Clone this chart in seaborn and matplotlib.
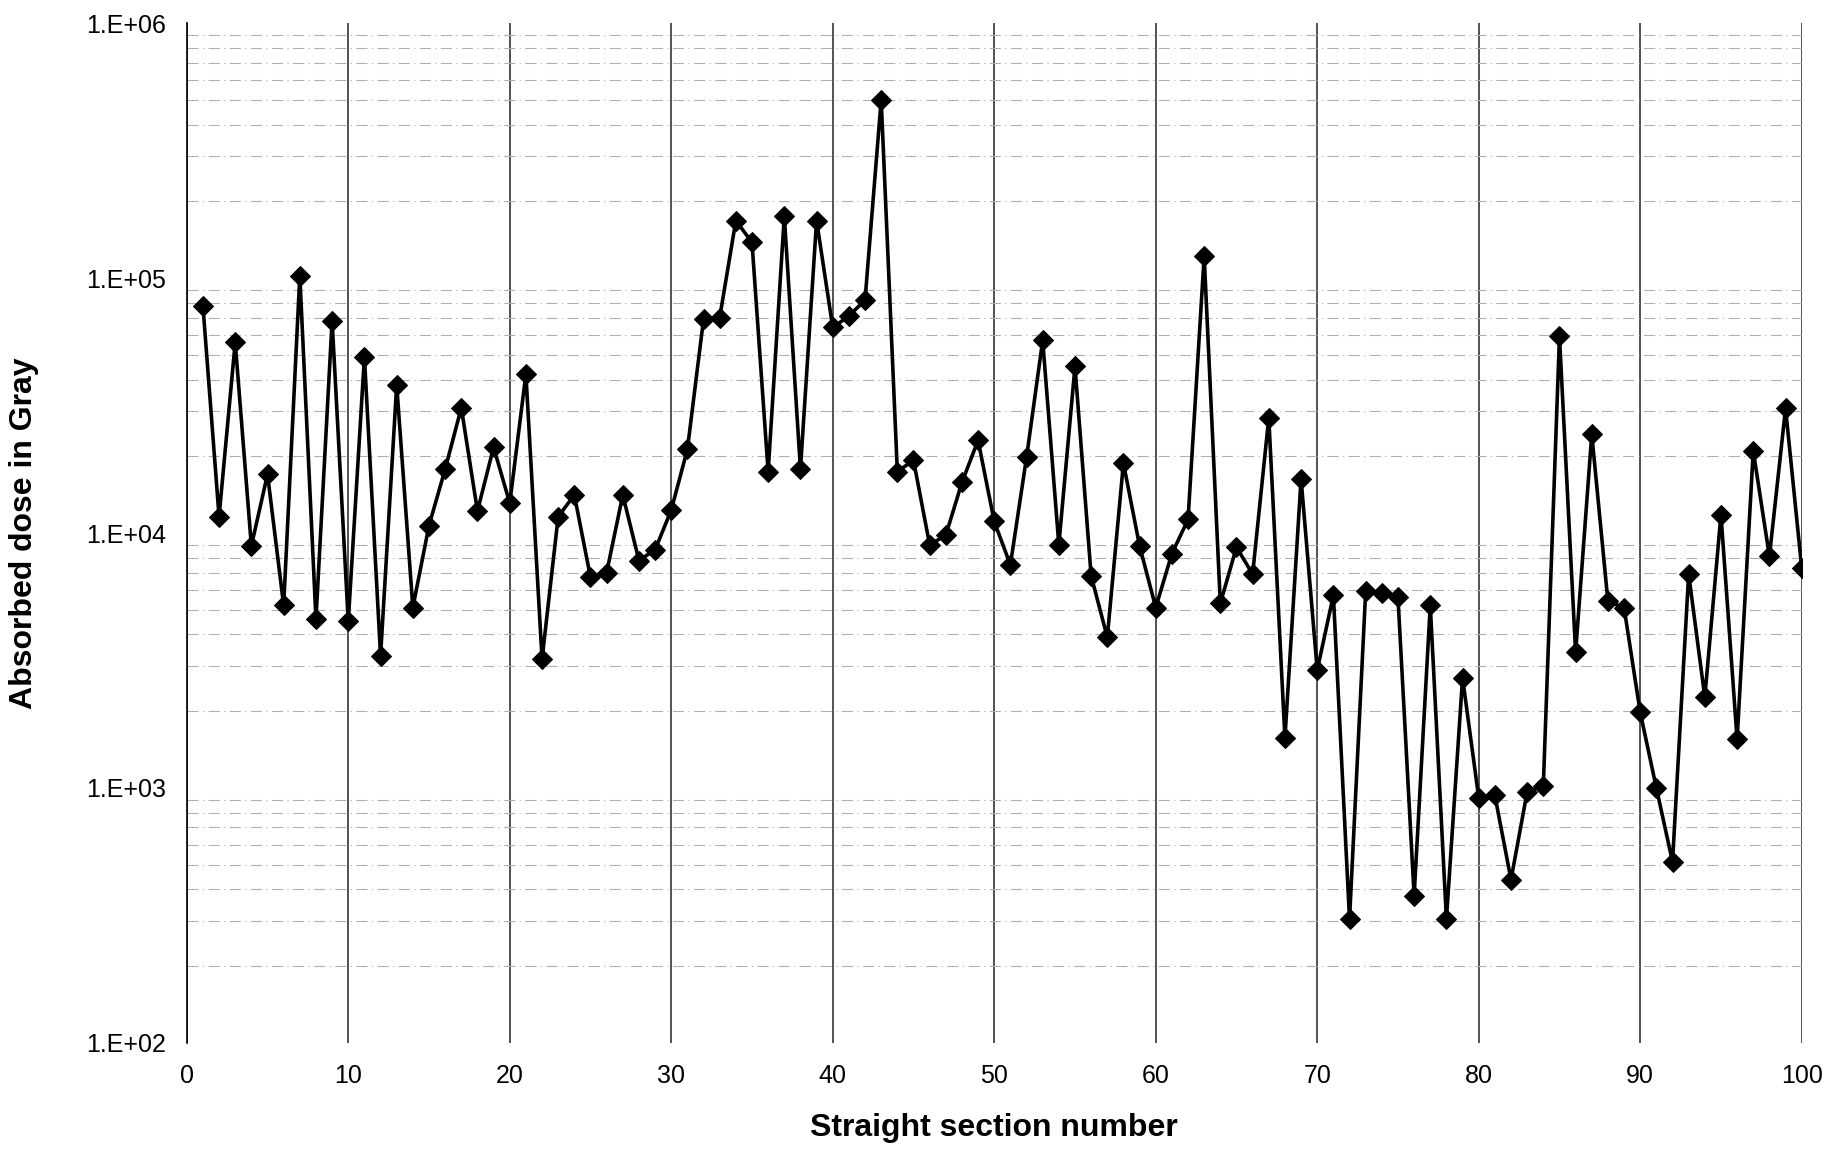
import numpy as np
import pandas as pd
import matplotlib
matplotlib.use("Agg")
import matplotlib.pyplot as plt
import seaborn as sns
from matplotlib.ticker import LogLocator, FixedLocator, FuncFormatter

section = list(range(1, 101))
dose = [
    7.8e4, 1.16e4, 5.6e4, 8.9e3, 1.7e4, 5.2e3, 1.02e5, 4.6e3, 6.8e4, 4.5e3,
    4.9e4, 3.3e3, 3.8e4, 5.1e3, 1.07e4, 1.78e4, 3.1e4, 1.22e4, 2.17e4, 1.31e4,
    4.2e4, 3.2e3, 1.16e4, 1.41e4, 6.7e3, 7.0e3, 1.41e4, 7.8e3, 8.6e3, 1.23e4,
    2.13e4, 6.9e4, 7.0e4, 1.68e5, 1.38e5, 1.74e4, 1.75e5, 1.78e4, 1.68e5, 6.4e4,
    7.1e4, 8.2e4, 5.0e5, 1.74e4, 1.93e4, 9.0e3, 9.8e3, 1.58e4, 2.31e4, 1.11e4,
    7.5e3, 1.98e4, 5.7e4, 9.0e3, 4.5e4, 6.8e3, 3.9e3, 1.88e4, 8.9e3, 5.1e3,
    8.3e3, 1.13e4, 1.22e5, 5.3e3, 8.8e3, 6.9e3, 2.83e4, 1.57e3, 1.63e4, 2.9e3,
    5.7e3, 306, 5.9e3, 5.8e3, 5.6e3, 378, 5.2e3, 306, 2.7e3, 916,
    935, 437, 966, 1.02e3, 5.9e4, 3.4e3, 2.44e4, 5.4e3, 5.1e3, 1.98e3,
    1.0e3, 513, 6.9e3, 2.27e3, 1.18e4, 1.55e3, 2.1e4, 8.1e3, 3.08e4, 7.3e3,
]
x_ticks = list(range(0, 101, 10))
y_ticks = [1e2, 1e3, 1e4, 1e5, 1e6]
y_tick_labels = ["1.E+02", "1.E+03", "1.E+04", "1.E+05", "1.E+06"]

df = pd.DataFrame({"section": section, "dose": dose})

sns.set_style("white")
plt.rcParams["font.family"] = ["Liberation Sans", "DejaVu Sans"]
plt.rcParams["text.color"] = "black"
plt.rcParams["axes.labelcolor"] = "black"

fig = plt.figure(figsize=(18.31, 11.55), dpi=100)
ax = fig.add_axes([0.102, 0.097, 0.882, 0.883])

sns.lineplot(data=df, x="section", y="dose", ax=ax, color="black",
             linewidth=2.6, marker="D", markersize=10.5,
             markeredgecolor="black", markerfacecolor="black", zorder=5)

ax.set_yscale("log")
ax.set_xlim(0, 100)
ax.set_ylim(1e2, 1e6)

ax.xaxis.set_major_locator(FixedLocator(x_ticks))
ax.yaxis.set_major_locator(FixedLocator(y_ticks))
ax.set_yticklabels(y_tick_labels)
ax.yaxis.set_minor_locator(LogLocator(base=10, subs=np.arange(2, 10)))
ax.yaxis.set_minor_formatter(FuncFormatter(lambda v, p: ""))

ax.grid(True, axis="x", which="major", color="#222222", linewidth=1.1)
ax.grid(True, axis="y", which="minor", color="#b0b0b0", linewidth=0.8,
        linestyle=(0, (10, 4, 1, 4)))
ax.grid(False, axis="y", which="major")

for s in ["top", "right", "bottom"]:
    ax.spines[s].set_visible(False)
ax.spines["left"].set_color("black")
ax.spines["left"].set_linewidth(1.2)

ax.tick_params(axis="both", which="major", labelsize=18, colors="black",
               direction="out", length=6, width=1, pad=9)
ax.tick_params(axis="y", which="minor", length=3, width=0.8, direction="in")

ax.set_xlabel("Straight section number", fontsize=23, fontweight="bold",
              labelpad=18)
ax.set_ylabel("Absorbed dose in Gray", fontsize=23, fontweight="bold",
              labelpad=34)

fig.savefig("out.png", dpi=100, facecolor="white")
